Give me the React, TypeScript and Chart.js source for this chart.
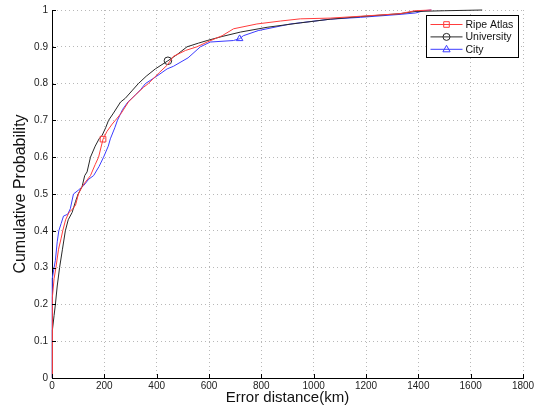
import React, { useEffect, useRef } from 'react';
import { Chart, registerables } from 'chart.js';

Chart.register(...registerables);

const xTicks = [0, 200, 400, 600, 800, 1000, 1200, 1400, 1600, 1800];
const yTicks = [0, 0.1, 0.2, 0.3, 0.4, 0.5, 0.6, 0.7, 0.8, 0.9, 1];
const seriesNames = ['Ripe Atlas', 'University', 'City'];
const xTitle = 'Error distance(km)';
const yTitle = 'Cumulative Probability';

const ripeX = [0, 0, 3, 8, 15, 25, 35, 41, 52, 65, 80, 90, 101, 115, 125, 147, 165, 178, 195, 210, 230, 242, 265, 292, 320, 350, 368, 410, 440, 464, 510, 554, 593, 650, 694, 783, 873, 949, 1063, 1178, 1330, 1387, 1450];
const ripeY = [0, 0.15, 0.22, 0.27, 0.3, 0.35, 0.38, 0.4, 0.43, 0.45, 0.46, 0.47, 0.5, 0.52, 0.53, 0.55, 0.58, 0.6, 0.649, 0.67, 0.69, 0.7, 0.72, 0.75, 0.77, 0.79, 0.8, 0.83, 0.85, 0.874, 0.89, 0.9, 0.913, 0.93, 0.949, 0.962, 0.97, 0.976, 0.978, 0.983, 0.99, 0.998, 1.0];
const ripeMarkerX = 195;

const uniX = [0, 0, 3, 8, 13, 20, 29, 40, 51, 62, 77, 90, 100, 115, 125, 134, 147, 165, 180, 192, 205, 216, 235, 262, 280, 305, 330, 360, 395, 443, 480, 516, 560, 593, 650, 720, 822, 949, 1063, 1178, 1330, 1387, 1500, 1644];
const uniY = [0, 0.1, 0.13, 0.17, 0.2, 0.25, 0.3, 0.35, 0.4, 0.43, 0.45, 0.48, 0.5, 0.52, 0.55, 0.56, 0.6, 0.63, 0.65, 0.66, 0.68, 0.7, 0.72, 0.75, 0.76, 0.78, 0.8, 0.82, 0.84, 0.862, 0.88, 0.9, 0.91, 0.917, 0.928, 0.94, 0.953, 0.965, 0.975, 0.982, 0.99, 0.996, 0.998, 1.0];
const uniMarkerX = 443;

const cityX = [0, 0, 2, 8, 13, 20, 26, 35, 44, 60, 70, 82, 100, 121, 140, 159, 180, 197, 215, 223, 240, 250, 270, 290, 320, 338, 357, 400, 440, 464, 520, 567, 605, 693, 717, 731, 788, 911, 1063, 1178, 1330, 1390, 1420, 1450];
const cityY = [0, 0.2, 0.27, 0.3, 0.32, 0.37, 0.4, 0.42, 0.44, 0.445, 0.46, 0.5, 0.51, 0.523, 0.54, 0.55, 0.575, 0.6, 0.63, 0.65, 0.68, 0.7, 0.73, 0.75, 0.77, 0.783, 0.8, 0.82, 0.84, 0.847, 0.87, 0.9, 0.913, 0.917, 0.922, 0.93, 0.944, 0.962, 0.975, 0.98, 0.988, 0.992, 0.998, 1.0];
const cityMarkerX = 717;

const colors = ['rgb(255,60,60)', 'rgb(40,40,40)', 'rgb(60,60,255)'];
const markers = ['rect', 'circle', 'triangle'];
const FONT = '"Liberation Sans", Arial, Helvetica, sans-serif';

function toPoints(xs: number[], ys: number[]) {
  return xs.map((x, i) => ({ x, y: ys[i] }));
}

function drawMarker(ctx: CanvasRenderingContext2D, kind: string, x: number, y: number) {
  ctx.beginPath();
  if (kind === 'rect') {
    ctx.rect(x - 2.8, y - 2.8, 5.6, 5.6);
  } else if (kind === 'circle') {
    ctx.arc(x, y, 3.5, 0, Math.PI * 2);
  } else {
    ctx.moveTo(x, y - 4);
    ctx.lineTo(x + 3.6, y + 2.5);
    ctx.lineTo(x - 3.6, y + 2.5);
    ctx.closePath();
  }
  ctx.stroke();
}

const overlay = {
  id: 'overlay',
  afterDraw(chart: any) {
    const { ctx, chartArea, scales } = chart;
    ctx.save();
    ctx.strokeStyle = '#000';
    ctx.lineWidth = 1;
    xTicks.forEach((v) => {
      const px = Math.round(scales.x.getPixelForValue(v)) + 0.5;
      ctx.beginPath();
      ctx.moveTo(px, chartArea.bottom);
      ctx.lineTo(px, chartArea.bottom - 4);
      ctx.stroke();
    });
    yTicks.forEach((v) => {
      const py = Math.round(scales.y.getPixelForValue(v)) + 0.5;
      ctx.beginPath();
      ctx.moveTo(chartArea.left, py);
      ctx.lineTo(chartArea.left + 4, py);
      ctx.stroke();
    });
    // legend
    const bx = Math.round(chartArea.right - 97) + 0.5;
    const by = Math.round(chartArea.top + 5) + 0.5;
    const bw = 92;
    const bh = 42;
    ctx.fillStyle = '#fff';
    ctx.fillRect(bx, by, bw, bh);
    ctx.strokeStyle = '#000';
    ctx.strokeRect(bx, by, bw, bh);
    ctx.font = '10.5px ' + FONT;
    ctx.textBaseline = 'middle';
    ctx.textAlign = 'left';
    seriesNames.forEach((name, i) => {
      const ry = by + 9 + i * 12.4;
      ctx.strokeStyle = colors[i];
      ctx.beginPath();
      ctx.moveTo(bx + 4, ry);
      ctx.lineTo(bx + 36, ry);
      ctx.stroke();
      drawMarker(ctx, markers[i], bx + 20, ry);
      ctx.fillStyle = '#111';
      ctx.fillText(name, bx + 39, ry + 0.5);
    });
    ctx.restore();
  },
};

function makeDataset(label: string, xs: number[], ys: number[], markerX: number, i: number) {
  return {
    label,
    data: toPoints(xs, ys),
    borderColor: colors[i],
    borderWidth: 1,
    pointStyle: markers[i],
    pointRadius: (c: any) => (c.raw && c.raw.x === markerX ? (markers[i] === 'rect' ? 4 : 3.8) : 0),
    pointHoverRadius: 0,
    pointBorderColor: colors[i],
    pointBackgroundColor: 'rgba(0,0,0,0)',
    pointBorderWidth: 1,
    tension: 0,
    fill: false,
    clip: false as const,
  };
}

const fmt = (v: any) => String(Number(Number(v).toFixed(2)));

export default function App() {
  const ref = useRef<HTMLCanvasElement | null>(null);
  useEffect(() => {
    if (!ref.current) return;
    const chart = new Chart(ref.current, {
      type: 'line',
      data: {
        datasets: [
          makeDataset(seriesNames[0], ripeX, ripeY, ripeMarkerX, 0),
          makeDataset(seriesNames[1], uniX, uniY, uniMarkerX, 1),
          makeDataset(seriesNames[2], cityX, cityY, cityMarkerX, 2),
        ] as any,
      },
      options: {
        animation: false,
        responsive: false,
        maintainAspectRatio: false,
        events: [],
        layout: { padding: { left: 0, right: 25, top: 6, bottom: 0 } },
        plugins: { legend: { display: false }, tooltip: { enabled: false } },
        scales: {
          x: {
            type: 'linear',
            min: 0,
            max: 1800,
            afterFit: (s: any) => { s.height = 37; },
            afterBuildTicks: (s: any) => { s.ticks = xTicks.map((v) => ({ value: v })); },
            ticks: { stepSize: 200, font: { size: 10, family: FONT }, color: '#222', padding: 2, maxRotation: 0, autoSkip: false, callback: fmt },
            grid: { color: '#b8b8b8', drawTicks: false, lineWidth: 1 },
            border: { display: true, color: '#000', width: 1, dash: [1, 3] },
            title: { display: true, text: xTitle, font: { size: 15, family: FONT }, color: '#111', padding: { top: 0, bottom: 8 } },
          },
          y: {
            type: 'linear',
            min: 0,
            max: 1,
            afterFit: (s: any) => { s.width = 52; },
            afterBuildTicks: (s: any) => { s.ticks = yTicks.map((v) => ({ value: v })); },
            ticks: { stepSize: 0.1, font: { size: 10, family: FONT }, color: '#222', padding: 4, autoSkip: false, callback: fmt },
            grid: { color: '#b8b8b8', drawTicks: false, lineWidth: 1 },
            border: { display: true, color: '#000', width: 1, dash: [1, 3] },
            title: { display: true, text: yTitle, font: { size: 16, family: FONT }, color: '#111', padding: { top: 11, bottom: 0 } },
          },
        },
      } as any,
      plugins: [overlay],
    });
    return () => chart.destroy();
  }, []);
  return (
    <div style={{ position: 'fixed', left: 0, top: 0, width: 548, height: 415, background: '#fff' }}>
      <canvas ref={ref} width={548} height={415} style={{ display: 'block' }} />
    </div>
  );
}
